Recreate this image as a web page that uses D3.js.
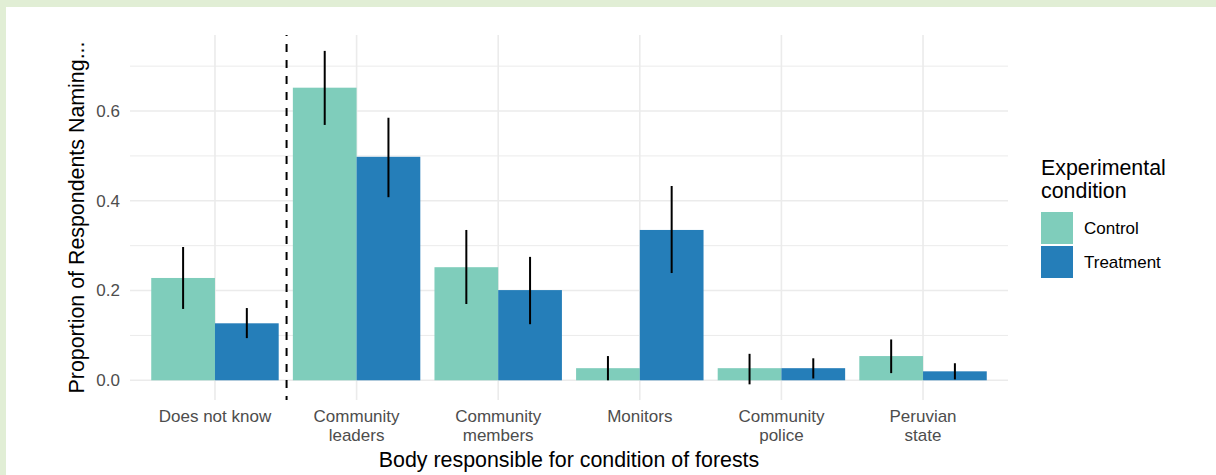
<!DOCTYPE html>
<html>
<head>
<meta charset="utf-8">
<script src="https://cdn.jsdelivr.net/npm/d3@7"></script>
<style>
  html, body { margin: 0; padding: 0; background: #e1eed5; }
  svg { display: block; }
  text { font-family: "Liberation Sans", Arial, Helvetica, sans-serif; }
</style>
</head>
<body>
<svg id="chart" width="1216" height="475"></svg>
<script>
// ---- data ----
const categories = ["Does not know", "Community leaders", "Community members", "Monitors", "Community police", "Peruvian state"];
const categoryLabels = [["Does not know"], ["Community", "leaders"], ["Community", "members"], ["Monitors"], ["Community", "police"], ["Peruvian", "state"]];
const conditions = ["Control", "Treatment"];
const controlValues = [0.228, 0.652, 0.252, 0.027, 0.027, 0.054];
const controlLower = [0.159, 0.569, 0.170, 0.000, -0.009, 0.016];
const controlUpper = [0.297, 0.734, 0.335, 0.054, 0.059, 0.091];
const treatmentValues = [0.127, 0.498, 0.201, 0.335, 0.027, 0.020];
const treatmentLower = [0.094, 0.408, 0.125, 0.239, 0.004, 0.002];
const treatmentUpper = [0.161, 0.585, 0.275, 0.433, 0.049, 0.038];
const yMajorTicks = [0.0, 0.2, 0.4, 0.6];
const yMinorTicks = [0.1, 0.3, 0.5, 0.7];
const yDomain = [-0.0439, 0.7694];
const colors = ["#7fcdbb", "#257eb9"];

const rows = [];
categories.forEach((c, i) => {
  rows.push({cat: c, cond: "Control", v: controlValues[i], lo: controlLower[i], hi: controlUpper[i]});
  rows.push({cat: c, cond: "Treatment", v: treatmentValues[i], lo: treatmentLower[i], hi: treatmentUpper[i]});
});

// ---- layout ----
const svg = d3.select("#chart");
svg.append("rect").attr("x", 6).attr("y", 7).attr("width", 1210).attr("height", 468).attr("fill", "#ffffff");

const panel = {left: 130, right: 1008, top: 35, bottom: 400};

const x = d3.scaleBand().domain(categories).range([panel.left, panel.right]).paddingInner(0).paddingOuter(0.1);
const bw = x.bandwidth();
const xInner = d3.scaleBand().domain(conditions).range([0.05 * bw, 0.95 * bw]).padding(0);
const y = d3.scaleLinear().domain(yDomain).range([panel.bottom, panel.top]);
const color = d3.scaleOrdinal().domain(conditions).range(colors);

const grid = svg.append("g");
// minor horizontal
grid.selectAll("line.minor").data(yMinorTicks).join("line")
  .attr("x1", panel.left).attr("x2", panel.right)
  .attr("y1", d => y(d)).attr("y2", d => y(d))
  .attr("stroke", "#ebebeb").attr("stroke-width", 1);
// major horizontal
grid.selectAll("line.major").data(yMajorTicks).join("line")
  .attr("x1", panel.left).attr("x2", panel.right)
  .attr("y1", d => y(d)).attr("y2", d => y(d))
  .attr("stroke", "#ebebeb").attr("stroke-width", 1.6);
// vertical
grid.selectAll("line.v").data(categories).join("line")
  .attr("x1", d => x(d) + bw / 2).attr("x2", d => x(d) + bw / 2)
  .attr("y1", panel.top).attr("y2", panel.bottom)
  .attr("stroke", "#ebebeb").attr("stroke-width", 1.6);

// bars
svg.append("g").selectAll("rect").data(rows).join("rect")
  .attr("x", d => x(d.cat) + xInner(d.cond))
  .attr("width", xInner.bandwidth())
  .attr("y", d => y(Math.max(0, d.v)))
  .attr("height", d => Math.abs(y(d.v) - y(0)))
  .attr("fill", d => color(d.cond));

// error bars
svg.append("g").selectAll("line").data(rows).join("line")
  .attr("x1", d => x(d.cat) + xInner(d.cond) + xInner.bandwidth() / 2)
  .attr("x2", d => x(d.cat) + xInner(d.cond) + xInner.bandwidth() / 2)
  .attr("y1", d => y(d.lo)).attr("y2", d => y(d.hi))
  .attr("stroke", "#000").attr("stroke-width", 2);

// dashed separator
const sepX = x(categories[0]) + bw;
svg.append("line")
  .attr("x1", sepX + 0.8).attr("x2", sepX + 0.8)
  .attr("y1", panel.top).attr("y2", panel.bottom)
  .attr("stroke", "#000").attr("stroke-width", 2)
  .attr("stroke-dasharray", "8,8").attr("stroke-dashoffset", 7);

// y axis labels
const yAxis = d3.axisLeft(y).tickValues(yMajorTicks).tickFormat(d3.format(".1f")).tickSize(0).tickPadding(0);
const yg = svg.append("g").attr("transform", `translate(${panel.left - 10},0)`).call(yAxis);
yg.select(".domain").remove();
yg.selectAll("text").attr("fill", "#4d4d4d").style("font-size", "17px")
  .style("font-family", "'Liberation Sans', Arial, sans-serif");

// x axis labels
const xg = svg.append("g");
categories.forEach((c, i) => {
  const t = xg.append("text")
    .attr("x", x(c) + bw / 2)
    .attr("y", 421.5)
    .attr("text-anchor", "middle")
    .attr("fill", "#4d4d4d")
    .style("font-size", "17px");
  categoryLabels[i].forEach((line, j) => {
    t.append("tspan").attr("x", x(c) + bw / 2).attr("dy", j === 0 ? 0 : 19.2).text(line);
  });
});

// axis titles
svg.append("text")
  .attr("x", (panel.left + panel.right) / 2)
  .attr("y", 466.5)
  .attr("text-anchor", "middle")
  .attr("fill", "#000")
  .style("font-size", "21.4px")
  .text("Body responsible for condition of forests");

svg.append("text")
  .attr("transform", `translate(83.5,${(panel.top + panel.bottom) / 2}) rotate(-90)`)
  .attr("text-anchor", "middle")
  .attr("fill", "#000")
  .style("font-size", "21.4px")
  .text("Proportion of Respondents Naming...");

// legend
const lg = svg.append("g");
lg.append("text").attr("x", 1041).attr("y", 175).attr("fill", "#000").style("font-size", "21.4px").text("Experimental");
lg.append("text").attr("x", 1041).attr("y", 197.5).attr("fill", "#000").style("font-size", "21.4px").text("condition");
conditions.forEach((c, i) => {
  lg.append("rect").attr("x", 1041).attr("y", 212 + i * 34).attr("width", 32).attr("height", 32).attr("fill", color(c));
  lg.append("text").attr("x", 1084).attr("y", 234 + i * 34).attr("fill", "#000").style("font-size", "17px").text(c);
});
</script>
</body>
</html>
